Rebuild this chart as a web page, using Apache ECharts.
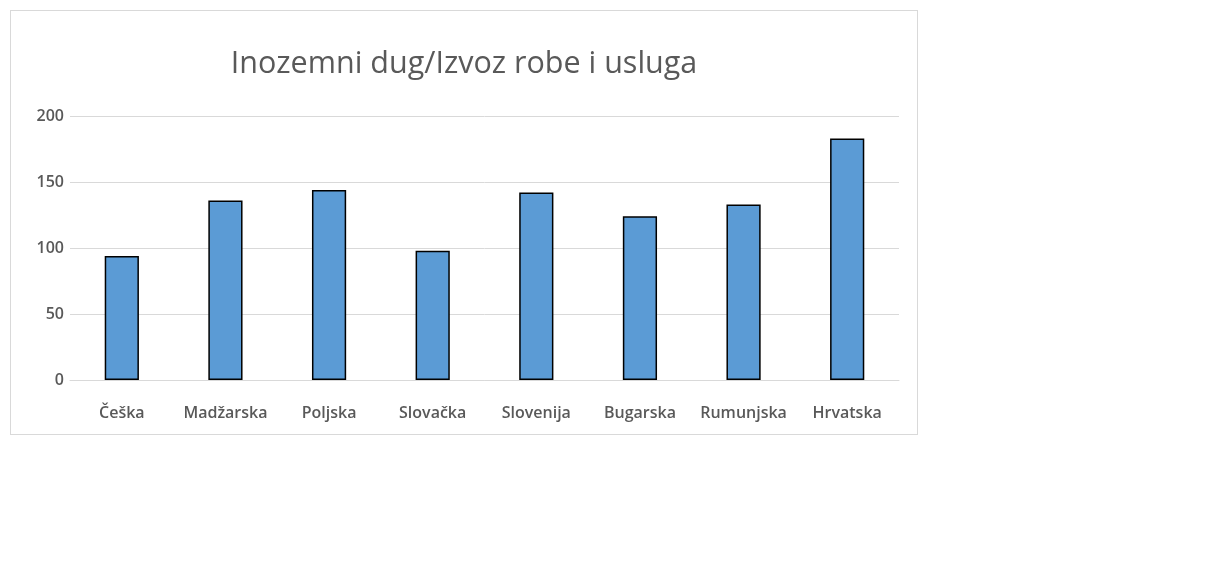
<!DOCTYPE html>
<html lang="hr">
<head>
    <meta charset="utf-8" />
    <title>Inozemni dug/Izvoz robe i usluga</title>
    <script src="https://cdn.jsdelivr.net/npm/echarts@6/dist/echarts.min.js"></script>
</head>
<body style="margin: 0; background: #FFFFFF">
    <div style="position: absolute; left: 10px; top: 10px; width: 908px; height: 425px; box-sizing: border-box; border: 1px solid #d9d9d9">
        <div id="chart" style="width: 906px; height: 423px"></div>
    </div>
    <script>
    // podaci
    let countries = ['Češka', 'Madžarska', 'Poljska', 'Slovačka', 'Slovenija', 'Bugarska', 'Rumunjska', 'Hrvatska']
    let debtToExports = [94, 136, 144, 98, 142, 124, 133, 183]

    let chart = echarts.init(document.getElementById('chart'))
    let fontFamily = '"Open Sans", Lato, sans-serif'

    chart.setOption({
        animation: false,
        title: {
            text: 'Inozemni dug/Izvoz robe i usluga',
            left: 'center',
            top: 33,
            textStyle: { fontFamily: fontFamily, fontSize: 30.5, fontWeight: 'normal', color: '#595959' }
        },
        grid: { left: 59, right: 18, top: 105, bottom: 54 },
        xAxis: {
            type: 'category',
            data: countries,
            axisLine: { lineStyle: { color: '#d9d9d9' } },
            axisTick: { show: false },
            axisLabel: { fontFamily: fontFamily, fontSize: 16, fontWeight: 600, color: '#595959', margin: 25, interval: 0 }
        },
        yAxis: {
            type: 'value',
            min: 0,
            max: 200,
            interval: 50,
            axisLine: { show: false },
            axisTick: { show: false },
            splitLine: { lineStyle: { color: '#d9d9d9', width: 1 } },
            axisLabel: { fontFamily: fontFamily, fontSize: 16, fontWeight: 600, color: '#595959', margin: 6 }
        },
        series: [{
            type: 'bar',
            data: debtToExports,
            barWidth: '33%',
            itemStyle: { color: '#5b9bd5', borderColor: '#000000', borderWidth: 1.5 }
        }]
    })
    </script>
</body>
</html>
